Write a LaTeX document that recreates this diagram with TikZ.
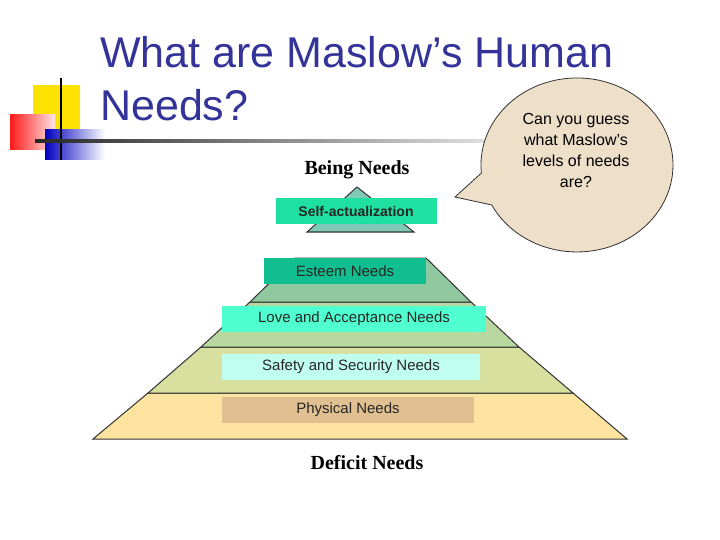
\documentclass[tikz,border=0pt]{standalone}
\usepackage{fontspec}
\setmainfont{Liberation Sans}
\newfontfamily\serifb{Liberation Serif}
\definecolor{ttl}{RGB}{51,51,153}
\begin{document}
\begin{tikzpicture}[x=1pt,y=-1pt,
  lbl/.style={inner sep=0pt,minimum height=26pt,font=\fontsize{15}{17}\selectfont,text=black!85},
  layer/.style={draw=black!80,line width=1pt},
  hd/.style={font=\serifb\bfseries\fontsize{20}{22}\selectfont},
  tt/.style={anchor=west,inner sep=0pt,text=ttl,font=\fontsize{43}{48}\selectfont}]
\useasboundingbox (0,0) rectangle (720,540);
\fill[white] (0,0) rectangle (720,540);
% decoration
\fill[yellow!85!orange] (33,85) rectangle (80,130);
\shade[left color=red!90, right color=red!10] (10,115) rectangle (55,150);
\shade[left color=blue!75!black, right color=white] (45,130) rectangle (105,160);
\draw[line width=2pt] (61,78) -- (61,160);
\shade[left color=black!85, right color=black!10] (35,140) rectangle (500,142.5);
% title
\node[tt] (t1) at (100,52) {What are Maslow’s Human};
\node[tt] (t2) at (100,105) {Needs?};
% pyramid layers
\fill[layer,fill={rgb,255:red,252;green,228;blue,160}] (93,439) -- (148,393) -- (573,393) -- (627,439) -- cycle;
\fill[layer,fill={rgb,255:red,216;green,224;blue,160}] (148,393) -- (201,347) -- (519,347) -- (573,393) -- cycle;
\fill[layer,fill={rgb,255:red,184;green,216;blue,160}] (201,347) -- (250,302) -- (471,302) -- (519,347) -- cycle;
\fill[layer,fill={rgb,255:red,144;green,200;blue,160}] (250,302) -- (295,258) -- (426,258) -- (471,302) -- cycle;
\fill[layer,fill={rgb,255:red,128;green,200;blue,184}] (307,232) -- (357,187) -- (414,232) -- cycle;
% labels
\node[lbl,fill={rgb,255:red,30;green,224;blue,160},minimum width=161pt,font=\bfseries\fontsize{14}{16}\selectfont] (sa) at (356,211) {Self-actualization};
\node[lbl,fill={rgb,255:red,16;green,190;blue,144},minimum width=162pt] (es) at (345,271) {Esteem Needs};
\node[lbl,fill={rgb,255:red,80;green,255;blue,208},minimum width=264pt] (lo) at (354,319) {Love and Acceptance Needs};
\node[lbl,fill={rgb,255:red,192;green,255;blue,240},minimum width=258pt] (sf) at (351,367) {Safety and Security Needs};
\node[lbl,fill={rgb,255:red,224;green,192;blue,144},minimum width=252pt] (ph) at (348,410) {Physical Needs};
\node[hd] (bn) at (357,170) {Being Needs};
\node[hd] (dn) at (367,463) {Deficit Needs};
% bubble
\filldraw[fill={rgb,255:red,237;green,223;blue,200},draw=black!80,line width=0.8pt]
  (481.4,173) arc[start angle=174.7, end angle=512.6, x radius=96, y radius=87]
  -- (455,197) -- cycle;
\node[align=center,font=\fontsize{16}{21}\selectfont,inner sep=0pt] (q) at (576,150) {Can you guess\\what Maslow’s\\levels of needs\\are?};
\end{tikzpicture}
\end{document}
